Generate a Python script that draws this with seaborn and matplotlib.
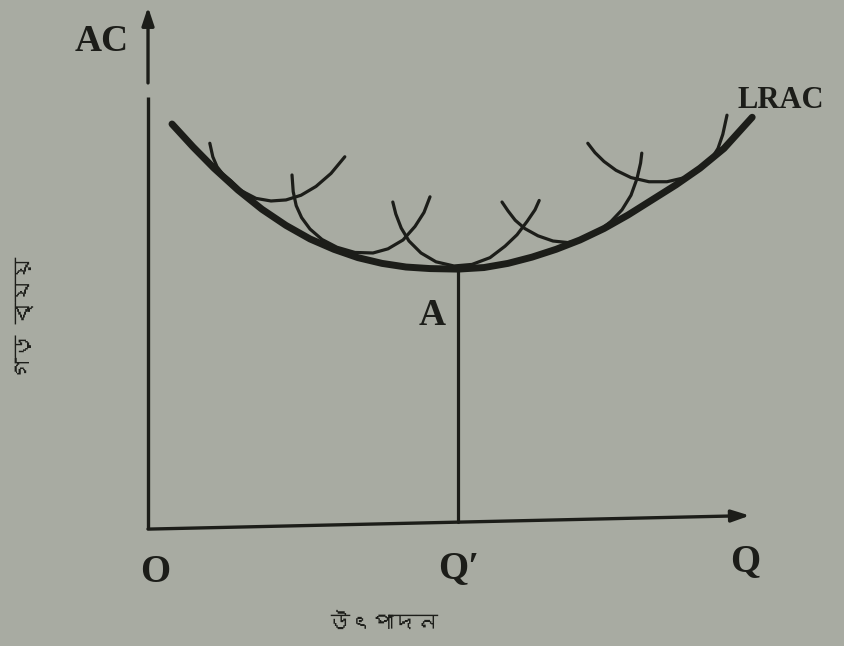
import numpy as np
import pandas as pd
import matplotlib
matplotlib.use("Agg")
import matplotlib.pyplot as plt
from matplotlib import font_manager
from matplotlib.ft2font import FT2Font
import seaborn as sns

# Long-run average cost envelope (output Q, average cost AC)
lrac_q = [0.40, 0.75, 1.10, 1.50, 1.90, 2.30, 2.70, 3.10, 3.50, 3.90, 4.30,
          4.70, 5.17, 5.60, 6.00, 6.40, 6.80, 7.20, 7.60, 8.00, 8.40, 8.80,
          9.20, 9.60, 10.07]
lrac_ac = [7.75, 7.31, 6.90, 6.48, 6.11, 5.80, 5.54, 5.34, 5.18, 5.07, 5.00,
           4.97, 4.96, 4.99, 5.07, 5.19, 5.34, 5.52, 5.74, 6.00, 6.29, 6.58,
           6.90, 7.28, 7.88]

# Short-run average cost curves lying on the envelope
sac1_q = [1.03, 1.08, 1.15, 1.25, 1.38, 1.55, 1.80, 2.05, 2.30, 2.55, 2.80,
          3.05, 3.28]
sac1_ac = [7.38, 7.12, 6.93, 6.78, 6.66, 6.47, 6.32, 6.27, 6.29, 6.38, 6.55,
           6.80, 7.12]
sac2_q = [2.40, 2.42, 2.47, 2.56, 2.70, 2.90, 3.15, 3.45, 3.75, 4.00, 4.25,
          4.45, 4.60, 4.70]
sac2_ac = [6.77, 6.45, 6.18, 5.95, 5.73, 5.53, 5.38, 5.28, 5.27, 5.35, 5.52,
           5.78, 6.05, 6.35]
sac3_q = [4.08, 4.13, 4.22, 4.35, 4.55, 4.80, 5.10, 5.40, 5.70, 5.95, 6.15,
          6.32, 6.45, 6.52]
sac3_ac = [6.25, 6.02, 5.75, 5.50, 5.27, 5.10, 5.02, 5.05, 5.18, 5.40, 5.62,
           5.88, 6.10, 6.28]
sac4_q = [5.90, 6.00, 6.12, 6.28, 6.50, 6.75, 7.00, 7.25, 7.50, 7.72, 7.90,
          8.05, 8.15, 8.21, 8.23]
sac4_ac = [6.25, 6.08, 5.90, 5.74, 5.60, 5.50, 5.47, 5.53, 5.68, 5.88, 6.10,
           6.38, 6.70, 7.00, 7.19]
sac5_q = [7.33, 7.45, 7.60, 7.80, 8.05, 8.35, 8.65, 8.95, 9.20, 9.38, 9.50,
          9.58, 9.65]
sac5_ac = [7.38, 7.20, 7.03, 6.86, 6.72, 6.64, 6.64, 6.72, 6.88, 7.06, 7.28,
           7.55, 7.92]

# Optimum output Q' at the minimum of the envelope (point A)
q_opt = 5.17
ac_min = 4.96

axis_labels = {"y": "AC", "x": "Q", "origin": "O", "q_opt": "Q′",
               "point": "A", "curve": "LRAC"}
bn_y = "গড় ব্যয়"
bn_x = "উৎপাদন"


def bengali_family():
    """Pick an installed family that covers Bengali, if any."""
    for f in font_manager.fontManager.ttflist:
        try:
            cmap = FT2Font(f.fname).get_charmap()
        except Exception:
            continue
        if 0x0997 in cmap and 0x09AF in cmap:
            return f.name
    return None


sns.set_theme(style="white")
bn_font = bengali_family()
serif = ["Liberation Serif", "DejaVu Serif"]
bn_fam = [bn_font, "DejaVu Sans"] if bn_font else ["DejaVu Sans"]

paper = "#a8aba2"
ink = "#1c1d19"

fig = plt.figure(figsize=(8.45, 6.46), dpi=100, facecolor=paper)
ax = fig.add_axes([0, 0, 1, 1])
ax.set_facecolor(paper)
ax.set_xlim(-2.467, 11.617)
ax.set_ylim(-2.288, 10.135)
ax.axis("off")

# short-run curves (thin)
sac = pd.concat([
    pd.DataFrame({"Q": q, "AC": c, "curve": i})
    for i, (q, c) in enumerate([(sac1_q, sac1_ac), (sac2_q, sac2_ac),
                                (sac3_q, sac3_ac), (sac4_q, sac4_ac),
                                (sac5_q, sac5_ac)])
])
sns.lineplot(data=sac, x="Q", y="AC", units="curve", estimator=None,
             sort=False, color=ink, linewidth=2.3, ax=ax,
             solid_capstyle="round", solid_joinstyle="round")

# envelope (thick)
lrac = pd.DataFrame({"Q": lrac_q, "AC": lrac_ac})
sns.lineplot(data=lrac, x="Q", y="AC", estimator=None, sort=False,
             color=ink, linewidth=5.0, ax=ax,
             solid_capstyle="round", solid_joinstyle="round")

# vertical drop from A to Q'
ax.plot([q_opt, q_opt], [0.1, ac_min], color=ink, linewidth=2.3)

# axes with arrowheads; the vertical axis has a small break near the top
ax.plot([0, 0], [-0.04, 8.27], color=ink, linewidth=2.4,
        solid_capstyle="butt")
ax.annotate("", xy=(0, 10.0), xytext=(0, 8.54),
            arrowprops=dict(arrowstyle="-|>,head_length=0.9,head_width=0.3",
                            color=ink, lw=2.4, shrinkA=0, shrinkB=0))
ax.annotate("", xy=(10.03, 0.22), xytext=(0, -0.04),
            arrowprops=dict(arrowstyle="-|>,head_length=0.9,head_width=0.3",
                            color=ink, lw=2.4, shrinkA=0, shrinkB=0))

txt = dict(color=ink, family=serif, fontweight="bold",
           ha="center", va="center")
ax.text(-0.78, 9.33, axis_labels["y"], fontsize=27, **txt)
ax.text(10.55, 8.21, axis_labels["curve"], fontsize=22, **txt)
ax.text(4.73, 4.06, axis_labels["point"], fontsize=27, **txt)
ax.text(0.12, -0.88, axis_labels["origin"], fontsize=28, **txt)
ax.text(5.17, -0.80, axis_labels["q_opt"], fontsize=28, **txt)
ax.text(9.95, -0.67, axis_labels["x"], fontsize=28, **txt)

ax.text(-2.05, 4.02, bn_y, fontsize=16, rotation=90, color=ink,
        family=bn_fam, ha="center", va="center")
ax.text(3.92, -1.85, bn_x, fontsize=16, color=ink,
        family=bn_fam, ha="center", va="center")

fig.savefig("out.png", dpi=100, facecolor=paper)
